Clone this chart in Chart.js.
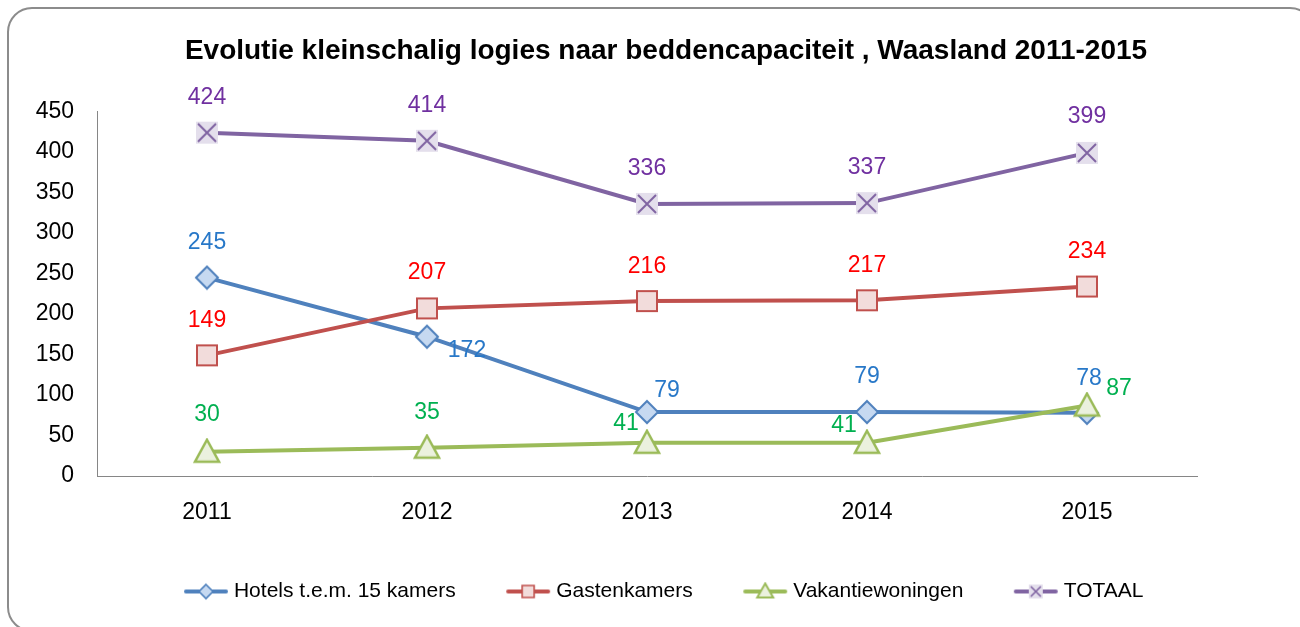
<!DOCTYPE html>
<html>
<head>
<meta charset="utf-8">
<script src="https://cdn.jsdelivr.net/npm/chart.js@4.4.0/dist/chart.umd.min.js"></script>
<style>
  html, body { margin:0; padding:0; background:#fff; overflow:hidden; }
  #wrap  { position:relative; width:1300px; height:627px; }
  #frame { position:absolute; left:7px; top:7px; width:1308px; height:625px; box-sizing:border-box;
           border:2px solid #8c8c8c; border-radius:25px; }
  #chart { position:absolute; left:0; top:0; }
</style>
</head>
<body>
<div id="wrap">
  <div id="frame"></div>
  <canvas id="chart" width="1300" height="627"></canvas>
</div>
<script>
// ── Data ────────────────────────────────────────────────────────────────
const YEARS    = ['2011', '2012', '2013', '2014', '2015'];
const HOTELS   = [245, 172, 79, 79, 78];
const GASTEN   = [149, 207, 216, 217, 234];
const VAKANTIE = [30, 35, 41, 41, 87];
const TOTAAL   = [424, 414, 336, 337, 399];
const Y_MAX = 450, Y_STEP = 50;

const FONT = "'Liberation Sans', Arial, sans-serif";

// label placement per point (dx, dy from the marker)
const OFF_HOTELS   = [[0,-35],[40,14],[20,-21],[0,-35],[2,-34]];
const OFF_GASTEN   = [[0,-35],[0,-36],[0,-34],[0,-35],[0,-35]];
const OFF_VAKANTIE = [[0,-37],[0,-35],[-21,-19],[-23,-17],[32,-17]];
const OFF_TOTAAL   = [[0,-35],[0,-35],[0,-35],[0,-35],[0,-36]];

// ── Markers (canvas images, so the TOTAAL box+X works) ───────────────────
function marker(shape, size, fill, stroke, lw) {
  const c = document.createElement('canvas');
  c.width = size + 4; c.height = size + 4;
  const g = c.getContext('2d');
  const m = c.width / 2, h = size / 2;
  g.fillStyle = fill; g.strokeStyle = stroke; g.lineWidth = lw; g.lineJoin = 'miter';
  g.beginPath();
  if (shape === 'diamond') {
    g.moveTo(m, m-h); g.lineTo(m+h, m); g.lineTo(m, m+h); g.lineTo(m-h, m); g.closePath();
    g.fill(); g.stroke();
  } else if (shape === 'square') {
    g.rect(m-h+1, m-h+1, size-2, size-2); g.fill(); g.stroke();
  } else if (shape === 'triangle') {
    g.moveTo(m, m-h); g.lineTo(m+h, m+h-2); g.lineTo(m-h, m+h-2); g.closePath();
    g.fill(); g.stroke();
  } else if (shape === 'xbox') {
    g.fillRect(m-h, m-h, size, size);
    g.moveTo(m-h+2, m-h+2); g.lineTo(m+h-2, m+h-2);
    g.moveTo(m+h-2, m-h+2); g.lineTo(m-h+2, m+h-2);
    g.stroke();
  }
  return c;
}

function legendIcon(color, mk) {
  const c = document.createElement('canvas');
  c.width = 46; c.height = 20;
  const g = c.getContext('2d');
  g.strokeStyle = color; g.lineWidth = 4; g.lineCap = 'round';
  g.beginPath(); g.moveTo(3, 10); g.lineTo(43, 10); g.stroke();
  g.drawImage(mk, (46 - mk.width) / 2, (20 - mk.height) / 2);
  return c;
}

function series(label, data, color, labelColor, shape, size, fill, lw, offs, order) {
  const big = marker(shape, size, fill, color, lw);
  const small = marker(shape, Math.round(size * 0.65), fill, color, lw * 0.8);
  return {
    label, data, order,
    borderColor: color, borderWidth: 4, tension: 0,
    pointStyle: big, pointRadius: 11, pointHoverRadius: 11,
    labelColor, labelOffsets: offs, legendIcon: legendIcon(color, small),
  };
}

// ── Data labels ─────────────────────────────────────────────────────────
const pointLabels = {
  id: 'pointLabels',
  afterDatasetsDraw(chart) {
    const ctx = chart.ctx;
    ctx.save();
    ctx.font = `23px ${FONT}`;
    ctx.textAlign = 'center';
    ctx.textBaseline = 'middle';
    chart.data.datasets.forEach((ds, i) => {
      chart.getDatasetMeta(i).data.forEach((pt, j) => {
        const [dx, dy] = ds.labelOffsets[j];
        ctx.fillStyle = ds.labelColor;
        ctx.fillText(String(ds.data[j]), pt.x + dx, pt.y + dy);
      });
    });
    ctx.restore();
  },
};

new Chart(document.getElementById('chart'), {
  type: 'line',
  data: {
    labels: YEARS,
    datasets: [
      series('Hotels t.e.m. 15 kamers', HOTELS,   '#4F81BD', '#2878C8', 'diamond',  22, '#C6D9F1', 2,   OFF_HOTELS,   4),
      series('Gastenkamers',            GASTEN,   '#C0504D', '#FF0000', 'square',   22, '#F2DCDB', 2,   OFF_GASTEN,   3),
      series('Vakantiewoningen',        VAKANTIE, '#9BBB59', '#00B050', 'triangle', 24, '#EBF1DE', 2.5, OFF_VAKANTIE, 2),
      series('TOTAAL',                  TOTAAL,   '#8064A2', '#7030A0', 'xbox',     22, '#E4DFEC', 2,   OFF_TOTAAL,   1),
    ],
  },
  options: {
    responsive: false, animation: false, devicePixelRatio: 1,
    layout: { padding: { top: 34, left: 32, right: 0, bottom: 15 } },
    plugins: {
      title: {
        display: true,
        text: 'Evolutie kleinschalig logies naar beddencapaciteit , Waasland 2011-2015',
        color: '#000', font: { family: FONT, size: 28, weight: 'bold' },
        padding: { top: 0, bottom: 44 },
      },
      legend: {
        position: 'bottom',
        labels: {
          usePointStyle: true, pointStyleWidth: 35, padding: 55,
          color: '#262626', font: { family: FONT, size: 21 },
          generateLabels: chart => chart.data.datasets.map((ds, i) => ({
            text: ds.label, pointStyle: ds.legendIcon, datasetIndex: i,
            fillStyle: 'transparent', strokeStyle: 'transparent', lineWidth: 0, hidden: false,
          })),
        },
      },
      tooltip: { enabled: false },
    },
    scales: {
      x: {
        offset: true,
        grid: { display: false, drawTicks: false },
        border: { color: '#868686', width: 1 },
        ticks: { color: '#000', padding: 23, font: { family: FONT, size: 23 } },
        afterFit: s => { s.height = 50; },
      },
      y: {
        min: 0, max: Y_MAX,
        grid: { display: false, drawTicks: false },
        border: { color: '#868686', width: 1 },
        ticks: { stepSize: Y_STEP, color: '#000', padding: 23, font: { family: FONT, size: 23 } },
        afterFit: s => { s.width = 65; },
      },
      yRight: {
        type: 'linear', position: 'right',
        grid: { display: false, drawTicks: false },
        border: { display: false },
        ticks: { display: false },
        afterFit: s => { s.width = 103; },
      },
    },
  },
  plugins: [pointLabels],
});
</script>
</body>
</html>
